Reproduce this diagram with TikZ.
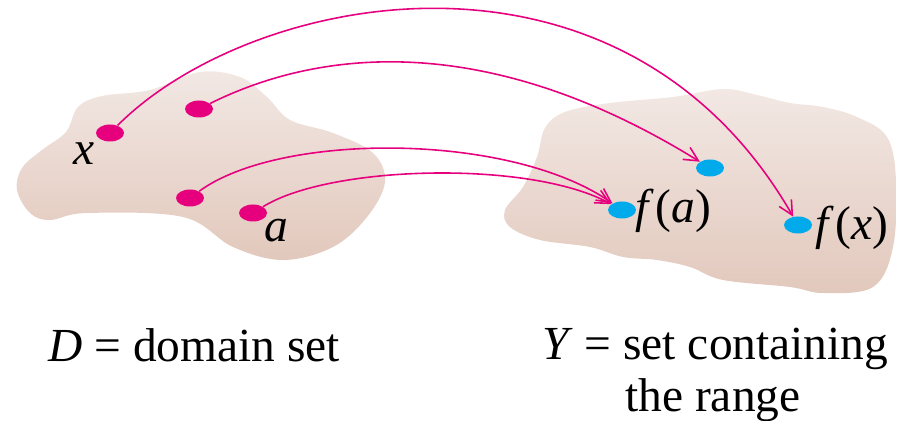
\documentclass[tikz,border=0pt]{standalone}
\usepackage{fontspec}
\setmainfont{Liberation Serif}
\usepackage{tikz}
\usetikzlibrary{arrows.meta,shapes.geometric}

\definecolor{mapmag}{RGB}{230,0,126}
\definecolor{mapcyan}{RGB}{0,170,235}
\definecolor{blobtop}{RGB}{242,232,228}
\definecolor{blobbot}{RGB}{226,200,188}

\begin{document}
\begin{tikzpicture}[x=0.02cm, y=-0.02cm,
    pinkdot/.style={ellipse, fill=mapmag, minimum width=0.56cm, minimum height=0.34cm, inner sep=0pt},
    bluedot/.style={ellipse, fill=mapcyan, minimum width=0.56cm, minimum height=0.34cm, inner sep=0pt},
    maparrow/.style={mapmag, line width=0.9pt, -{Straight Barb[length=8pt,width=8pt]}},
    lbl/.style={anchor=base west, inner sep=0pt, font=\fontsize{27}{32}\selectfont}]
    \useasboundingbox (0,0) rectangle (897,421);

    % Domain and target sets
    \shade[top color=blobtop, bottom color=blobbot] plot[smooth cycle, tension=0.6] coordinates {
        (17,190) (22,168) (42,150) (66,132) (78,107) (102,96) (150,90) (200,72) (240,77)
        (267,97) (290,120) (333,133) (373,153) (385,182) (367,217) (333,247) (283,260)
        (233,247) (183,217) (87,213) (50,220) (30,213)};
    \shade[top color=blobtop, bottom color=blobbot] plot[smooth cycle, tension=0.6] coordinates {
        (505,210) (523,187) (537,157) (545,128) (565,112) (610,103) (673,97) (723,89)
        (757,95) (790,103) (823,107) (857,117) (887,137) (896,180) (893,247) (873,287)
        (823,293) (790,287) (723,280) (690,267) (657,260) (623,257) (590,247) (540,240) (510,227)};

    % Points
    \node[pinkdot] (x) at (110,133) {};
    \node[pinkdot] (p) at (199,109) {};
    \node[pinkdot] (q) at (190,198) {};
    \node[pinkdot] (a) at (253,213) {};
    \node[bluedot] (fp) at (710,168) {};
    \node[bluedot] (fa) at (622,210) {};
    \node[bluedot] (fx) at (798,225) {};

    % Mapping arrows
    \draw[maparrow] (x) .. controls (252,-9) and (621,-82) .. (fx);
    \draw[maparrow] (p) .. controls (328,45) and (495,35) .. (fp);
    \draw[maparrow] (q) .. controls (280,132) and (510,132) .. (fa);
    \draw[maparrow] (a) .. controls (330,165) and (530,160) .. (fa);

    % Labels
    \node[lbl] (xlab) at (73,165) {\textit{x}};
    \node[lbl] (alab) at (264,242) {\textit{a}};
    \node[lbl] (falab) at (635,223) {\textit{f}\kern1pt(\textit{a})};
    \node[lbl] (fxlab) at (815,240) {\textit{f}\kern1pt(\textit{x})};
    \node[lbl] (dom) at (48,362) {\textit{D} = domain set};
    \node[lbl] (cod) at (542,360) {\textit{Y} = set containing};
    \node[lbl] (range) at (625,412) {the range};
\end{tikzpicture}
\end{document}
